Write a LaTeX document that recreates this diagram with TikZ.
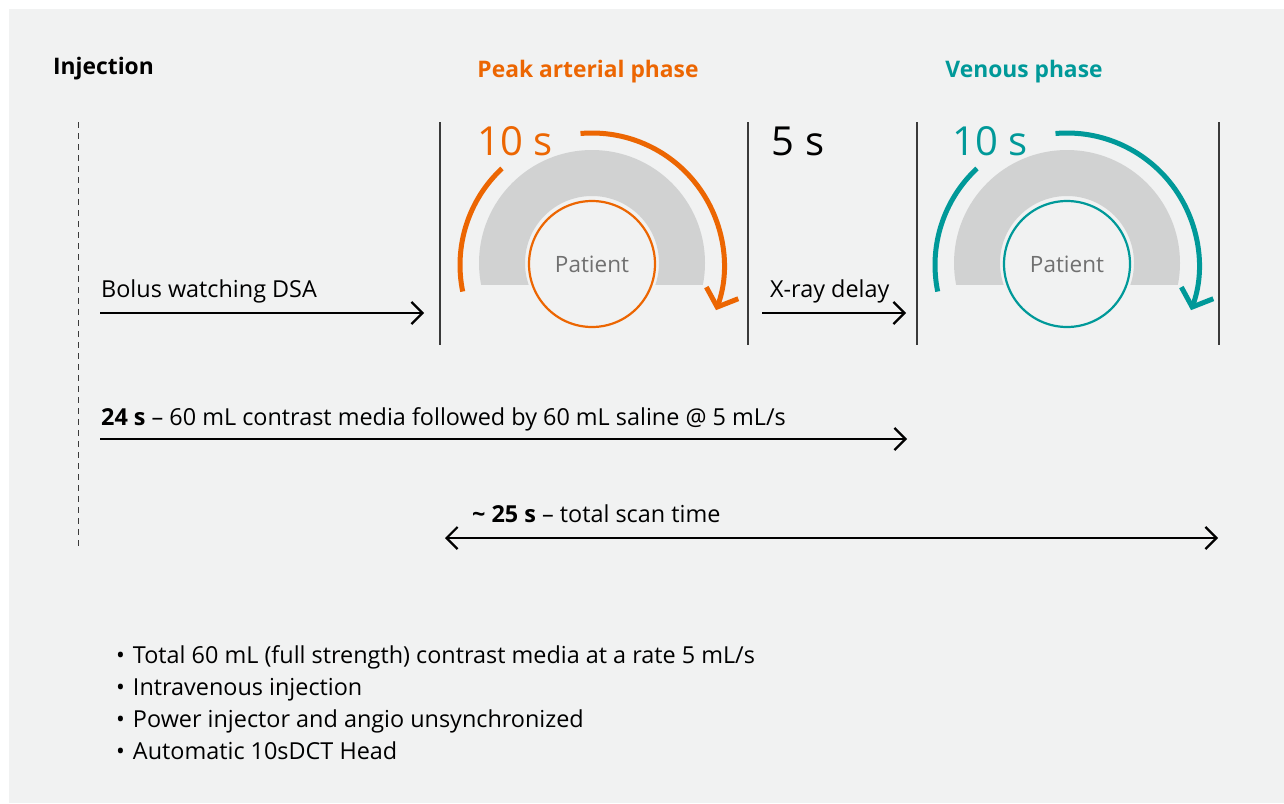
\documentclass[tikz,border=0pt]{standalone}
\usepackage{fontspec}
\setmainfont{Open Sans}
\usetikzlibrary{arrows.meta,calc}
\definecolor{bgc}{HTML}{F1F2F2}
\definecolor{gantryc}{HTML}{D1D2D2}
\definecolor{sorange}{HTML}{EC6602}
\definecolor{steal}{HTML}{009999}
\definecolor{ptext}{HTML}{707070}
\definecolor{vline}{HTML}{3A3A3A}
\tikzset{
  lbl/.style={inner sep=0pt, font=\fontsize{23.4}{28}\selectfont, text=black},
  head/.style={inner sep=0pt, font=\fontsize{22.8}{27}\selectfont\bfseries},
  big/.style={inner sep=0pt, font=\fontsize{40}{46}\selectfont},
  ptl/.style={inner sep=0pt, font=\fontsize{22.5}{27}\selectfont, text=ptext},
  timeline/.style={line width=2.2pt, -{Straight Barb[length=11pt,width=22pt,line width=2.2pt]}},
  twoway/.style={line width=2.2pt, {Straight Barb[length=11pt,width=22pt,line width=2.2pt]}-{Straight Barb[length=11pt,width=22pt,line width=2.2pt]}},
  divider/.style={line width=1.3pt, draw=vline},
  rot/.style={line width=5pt},
  rotarrow/.style={line width=5pt, -{Straight Barb[length=15pt,width=34pt,line width=5pt]}},
  patient/.style={circle, minimum size=126pt, inner sep=0pt, line width=2.2pt},
}
\newcommand{\gantrydraw}[3]{%
  % #1 center x, #2 color, #3 name prefix
  \coordinate (#3c) at (#1,263);
  \begin{scope}
    \clip (#1-125,100) rectangle (#1+125,284);
    \fill[gantryc, even odd rule] (#3c) circle[radius=113pt] (#3c) circle[radius=67pt];
  \end{scope}
  \node[patient, draw=#2] (#3p) at (#1,264) {};
  \node[ptl, anchor=base] (#3pt) at (#1,272) {Patient};
  \coordinate (#3r) at (#1,265);
  \draw[rot, draw=#2] ($(#3r)+(-191.6:132)$) arc[start angle=-191.6, end angle=-133, radius=132];
  \draw[rotarrow, draw=#2] ($(#3r)+(-95:132)$) arc[start angle=-95, end angle=20, radius=132];
}
\begin{document}
\begin{tikzpicture}[x=1pt,y=-1pt]
\useasboundingbox (0,0) rectangle (1284,803);
\fill[white] (0,0) rectangle (1284,803);
\fill[bgc] (9,9) rectangle (1284,803);

% headings
\node[head, anchor=base west] (inj) at (53,74) {Injection};
\node[head, anchor=base, text=sorange] (peak) at (588,77) {Peak arterial phase};
\node[head, anchor=base, text=steal] (ven) at (1024,77) {Venous phase};

% dashed injection line
\coordinate (d1) at (78,122);
\coordinate (d2) at (78,548);
\draw[line width=1pt, dash pattern=on 6pt off 5pt, draw=vline] (d1) -- (d2);

% dividers
\coordinate (v1a) at (440,122); \coordinate (v1b) at (440,345);
\coordinate (v2a) at (748,122); \coordinate (v2b) at (748,345);
\coordinate (v3a) at (917,122); \coordinate (v3b) at (917,345);
\coordinate (v4a) at (1219,122); \coordinate (v4b) at (1219,345);
\draw[divider] (v1a) -- (v1b);
\draw[divider] (v2a) -- (v2b);
\draw[divider] (v3a) -- (v3b);
\draw[divider] (v4a) -- (v4b);

% gantries
\gantrydraw{592}{sorange}{o}
\gantrydraw{1067}{steal}{t}

% times
\node[big, anchor=base, text=sorange] (t1) at (515,155) {10 s};
\node[big, anchor=base, text=black] (t2) at (798,155) {5 s};
\node[big, anchor=base, text=steal] (t3) at (990,155) {10 s};

% bolus arrow
\node[lbl, anchor=base west] (bolus) at (101,297) {Bolus watching DSA};
\coordinate (b1) at (100,313); \coordinate (b2) at (424,313);
\draw[timeline] (b1) -- (b2);

% x-ray delay
\node[lbl, anchor=base west] (xray) at (770,297) {X-ray delay};
\coordinate (x1) at (762,313); \coordinate (x2) at (906,313);
\draw[timeline] (x1) -- (x2);

% injection duration
\node[lbl, anchor=base west] (inj24) at (101,425) {\textbf{24 s} -- 60 mL contrast media followed by 60 mL saline @ 5 mL/s};
\coordinate (i1) at (100,439); \coordinate (i2) at (907,439);
\draw[timeline] (i1) -- (i2);

% total scan time
\node[lbl, anchor=base west] (scan) at (472,522) {\textbf{\char"007E{} 25 s} -- total scan time};
\coordinate (s1) at (445,538); \coordinate (s2) at (1218,538);
\draw[twoway] (s1) -- (s2);

% bullets
\node[lbl, anchor=base west] (l1) at (116,663) {•\hspace{8pt}Total 60 mL (full strength) contrast media at a rate 5 mL/s};
\node[lbl, anchor=base west] (l2) at (116,695) {•\hspace{8pt}Intravenous injection};
\node[lbl, anchor=base west] (l3) at (116,727) {•\hspace{8pt}Power injector and angio unsynchronized};
\node[lbl, anchor=base west] (l4) at (116,759) {•\hspace{8pt}Automatic 10sDCT Head};
\end{tikzpicture}
\end{document}
